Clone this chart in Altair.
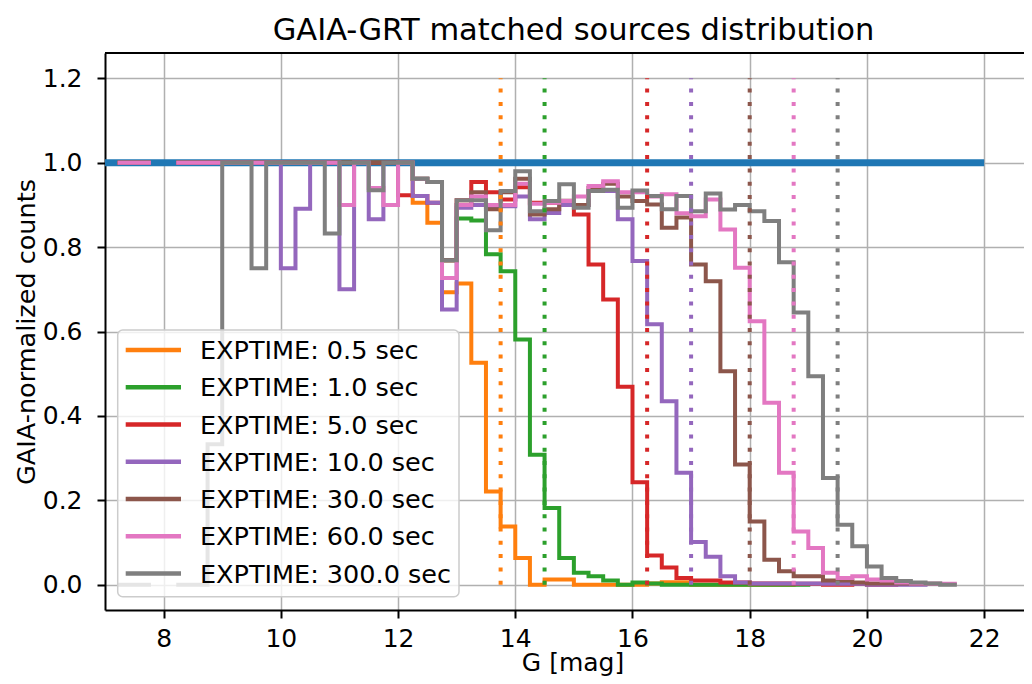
import altair as alt
import pandas as pd

# ---- data -----------------------------------------------------------------
bin_start = 7.25
bin_width = 0.25

names = ["EXPTIME: 0.5 sec", "EXPTIME: 1.0 sec", "EXPTIME: 5.0 sec",
         "EXPTIME: 10.0 sec", "EXPTIME: 30.0 sec", "EXPTIME: 60.0 sec",
         "EXPTIME: 300.0 sec"]
colors = ["#ff7f0e", "#2ca02c", "#d62728", "#9467bd", "#8c564b", "#e377c2", "#7f7f7f"]
limits = [13.75, 14.5, 16.25, 17.0, 18.0, 18.75, 19.5]

N = None
exp_0p5 = [1, 1, N, N, 1, 1, 1, 1, 1, 1, 1, 1, 1, 1, 1, 1, 1, 1, 1, 1,
           0.905, 0.858, 0.693, 0.714, 0.526, 0.221, 0.138, 0.063, 0.0, 0.012,
           0.012, 0.0, 0.0, 0.0, 0.0, 0.0, 0.003, 0.006, 0.006, 0.0,
           0.0, 0.0, 0.0, 0.0, 0.0, 0.0]
exp_1 = [1, 1, N, N, 1, 1, 1, 1, 1, 1, 1, 1, 1, 1, 1, 1, 1, 1, 1, 1,
         0.962, 0.954, 0.769, 0.868, 0.863, 0.783, 0.743, 0.581, 0.308, 0.182,
         0.063, 0.028, 0.02, 0.01, 0.0, 0.005, 0.003, 0.0, 0.0, 0.0,
         0.0, 0.0, 0.0, 0.0, 0.0, 0.0, 0.0]
exp_5 = [1, 1, N, N, 1, 1, 1, 1, 1, 1, 1, 1, 1, 1, 1, 1, 1, 1, 1, 0.923,
         0.921, 0.905, 0.769, 0.911, 0.954, 0.93, 0.913, 0.942, 0.905, 0.905,
         0.909, 0.877, 0.759, 0.676, 0.469, 0.243, 0.069, 0.041, 0.016, 0.01,
         0.01, 0.005, 0.005, 0.003, 0.003, 0.003, 0.002, 0.002, 0.0, 0.0,
         0.002, 0.0, 0.0]
exp_10 = [1, 1, N, N, 1, 1, 1, 1, 1, 1, 1, 0.75, 0.891, 1, 1, 0.70, 1, 0.866, 1, 1,
          0.921, 0.905, 0.652, 0.893, 0.90, 0.895, 0.897, 0.92, 0.866, 0.881,
          0.90, 0.90, 0.933, 0.933, 0.866, 0.767, 0.617, 0.435, 0.265, 0.101,
          0.066, 0.02, 0.005, 0.003, 0.003, 0.003, 0.003, 0.003, 0.002, 0.002,
          0.002, 0.0, 0.0, 0.0, 0.0]
exp_30 = [1, 1, N, N, 1, 1, 1, 1, 1, 1, 1, 1, 1, 1, 1, 1, 1, 1, 1, 1,
          0.962, 0.954, 0.769, 0.90, 0.93, 0.89, 0.93, 0.962, 0.877, 0.89,
          0.91, 0.90, 0.94, 0.95, 0.92, 0.909, 0.901, 0.846, 0.870, 0.759,
          0.719, 0.506, 0.285, 0.150, 0.059, 0.032, 0.020, 0.020, 0.01, 0.01,
          0.005, 0.003, 0.003, 0.003, 0.002, 0.002]
exp_60 = [1, 1, N, N, 1, 1, 1, 1, 1, 1, 1, 1, 1, 1, 1, 0.90, 1, 0.94, 0.90, 1,
          0.962, 0.954, 0.727, 0.90, 0.92, 0.90, 0.90, 0.95, 0.903, 0.905,
          0.909, 0.92, 0.945, 0.956, 0.93, 0.93, 0.92, 0.925, 0.88, 0.873,
          0.913, 0.842, 0.751, 0.624, 0.431, 0.265, 0.126, 0.087, 0.028, 0.016,
          0.02, 0.012, 0.01, 0.005, 0.003, 0.002, 0.002]
exp_300 = [0.0, 0.0, N, N, 0.0, 0.0, 0.333, 1, 1, 0.75, 1, 1, 1, 1, 0.832, 1, 1, 0.935, 1, 1,
           0.962, 0.954, 0.769, 0.911, 0.911, 0.84, 0.933, 0.98, 0.885, 0.909,
           0.949, 0.893, 0.933, 0.936, 0.893, 0.934, 0.921, 0.890, 0.921, 0.885,
           0.927, 0.889, 0.90, 0.885, 0.862, 0.764, 0.645, 0.494, 0.253, 0.142,
           0.091, 0.043, 0.016, 0.009, 0.005, 0.003, 0.0]

series_values = [exp_0p5, exp_1, exp_5, exp_10, exp_30, exp_60, exp_300]

gaia_x = [7.0, 22.0]
gaia_y = [1.0, 1.0]

x_ticks = [8, 10, 12, 14, 16, 18, 20, 22]
y_ticks = [0.0, 0.2, 0.4, 0.6, 0.8, 1.0, 1.2]
x_domain = [7.0, 22.68]
y_domain = [-0.06, 1.26]
vline_top = 1.2


def step_rows(name, vals):
    rows, seg, run = [], 0, []
    for i, v in enumerate(list(vals) + [None]):
        if v is None:
            if run:
                for (x, y) in run:
                    rows.append({"series": name, "seg": seg, "x": x, "y": y})
                rows.append({"series": name, "seg": seg,
                             "x": run[-1][0] + bin_width, "y": run[-1][1]})
                seg += 1
                run = []
        else:
            run.append((bin_start + i * bin_width, v))
    return rows


FONT = "DejaVu Sans"
W, H = 919, 557

xscale = alt.Scale(domain=x_domain, nice=False, zero=False)
yscale = alt.Scale(domain=y_domain, nice=False, zero=False)

x_axis = alt.Axis(values=x_ticks, format="d", title="G [mag]",
                  titleX=467.5, titleY=60, titleBaseline="alphabetic",
                  titleFontSize=25)
y_axis = alt.Axis(values=y_ticks, format=".1f", title="GAIA-normalized counts",
                  titleX=-79, titleBaseline="middle")

gaia_df = pd.DataFrame({"x": gaia_x, "y": gaia_y})
base_blue = alt.Chart(gaia_df).mark_line(color="#1f77b4", strokeWidth=7, clip=True).encode(
    x=alt.X("x:Q", scale=xscale, axis=x_axis),
    y=alt.Y("y:Q", scale=yscale, axis=y_axis),
)

layers = [base_blue]
for name, vals, col in zip(names, series_values, colors):
    df = pd.DataFrame(step_rows(name, vals))
    layers.append(
        alt.Chart(df).mark_line(interpolate="step-after", strokeWidth=4,
                                strokeCap="square", clip=True, color=col).encode(
            x=alt.X("x:Q", scale=xscale),
            y=alt.Y("y:Q", scale=yscale),
            detail="seg:N",
        )
    )

lim_df = pd.DataFrame({"x": limits, "y0": [0.0] * len(limits),
                       "y1": [vline_top] * len(limits), "c": colors})
layers.append(
    alt.Chart(lim_df).mark_rule(strokeWidth=4, strokeDash=[4, 9.3]).encode(
        x=alt.X("x:Q", scale=xscale),
        y=alt.Y("y0:Q", scale=yscale),
        y2="y1:Q",
        color=alt.Color("c:N", scale=None),
    )
)

# top spine
spine_df = pd.DataFrame({"k": [0]})
layers.append(
    alt.Chart(spine_df).mark_rule(color="black", strokeWidth=2).encode(
        x=alt.value(0), x2=alt.value(W), y=alt.value(0)
    )
)

# ---- legend (drawn as marks, positioned in pixels inside the plot) ----------
LEG_X0, LEG_X1, LEG_Y0, LEG_Y1 = 12.7, 354, 277, 543.7
ROW0, ROW_STEP = 297, 37.25
leg_df = pd.DataFrame({"name": names, "c": colors, "row": list(range(len(names)))})
leg_box = alt.Chart(spine_df).mark_rect(
    fill="white", fillOpacity=0.8, stroke="#cccccc", strokeWidth=1.5, cornerRadius=5
).encode(x=alt.value(LEG_X0), x2=alt.value(LEG_X1), y=alt.value(LEG_Y0), y2=alt.value(LEG_Y1))
leg_lines = alt.Chart(leg_df).transform_calculate(
    py=f"{ROW0} + datum.row * {ROW_STEP}"
).mark_rule(strokeWidth=4.5).encode(
    x=alt.value(20.7), x2=alt.value(76),
    y=alt.Y("py:Q", scale=None),
    color=alt.Color("c:N", scale=None),
)
leg_text = alt.Chart(leg_df).transform_calculate(
    py=f"{ROW0} + datum.row * {ROW_STEP} + 9.2"
).mark_text(align="left", baseline="alphabetic", font=FONT, fontSize=25.5,
            color="black").encode(
    x=alt.value(95),
    y=alt.Y("py:Q", scale=None),
    text="name:N",
)
layers += [leg_box, leg_lines, leg_text]

chart = alt.layer(*layers).properties(
    width=W, height=H,
    autosize=alt.AutoSizeParams(type="none"),
    padding={"left": 97, "top": 45, "right": 0, "bottom": 66},
    title=alt.TitleParams("GAIA-GRT matched sources distribution", font=FONT,
                          fontSize=30.5, fontWeight="normal", color="black",
                          anchor="middle", frame="group", dx=9, dy=34,
                          baseline="alphabetic", offset=16),
).configure_view(stroke=None).configure_axis(
    labelFont=FONT, labelFontSize=25, labelColor="black",
    titleFont=FONT, titleFontSize=25.5, titleColor="black", titleFontWeight="normal",
    domainColor="black", domainWidth=2, tickColor="black", tickWidth=2, tickSize=8,
    gridColor="#b0b0b0", gridWidth=1.5, grid=True,
).configure_axisX(labelPadding=8).configure_axisY(labelPadding=15)

chart.save("out.html", embed_options={"renderer": "svg", "actions": False})
